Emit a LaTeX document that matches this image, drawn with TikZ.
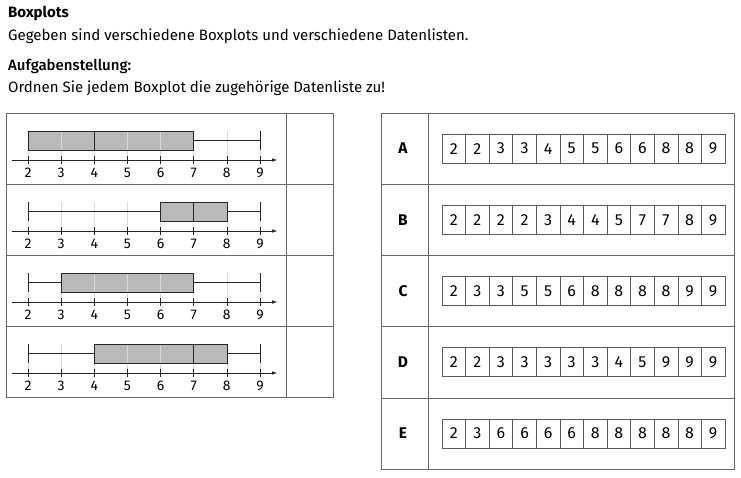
\documentclass[tikz,border=0pt]{standalone}
\usepackage{fontspec}
\setmainfont{Fira Sans}
\newfontfamily\medfont{Fira Sans}[UprightFont={* Medium}]
\usetikzlibrary{arrows.meta}
\tikzset{
  frame/.style={draw=black!60, line width=0.6pt},
  cell/.style={draw=black!65, line width=0.5pt, minimum width=23.58pt, minimum height=29pt, inner sep=0pt, font=\fontsize{16}{18}\selectfont},
  tag/.style={font=\bfseries\fontsize{15.5}{18}\selectfont},
  tick label/.style={font=\fontsize{14}{16}\selectfont, anchor=base, inner sep=0pt},
  head/.style={anchor=base west, inner sep=0pt, font=\fontsize{15}{18}\selectfont},
  box/.style={fill=gray!55},
  plotline/.style={draw=black!85, line width=0.6pt},
}
\begin{document}
\begin{tikzpicture}[x=1pt, y=-1pt]
  \useasboundingbox (0,0) rectangle (741,477);
  \node[head] (title) at (8,17) {\bfseries Boxplots};
  \node[head] (given) at (8,40) {Gegeben sind verschiedene Boxplots und verschiedene Datenlisten.};
  \node[head] (task) at (8,70) {\medfont Aufgabenstellung:};
  \node[head] (order) at (8,92) {Ordnen Sie jedem Boxplot die zugehörige Datenliste zu!};

  \draw[frame] (6,113) rectangle (333,397);
  \draw[frame] (286,113) -- (286,397);
  \foreach \k in {1,2,3}
    \draw[frame] (6,{113+71*\k}) -- (333,{113+71*\k});

  \foreach \r/\lo/\qa/\md/\qb/\hi in {1/2/2/4/7/9, 2/2/6/7/8/9, 3/2/3/3/7/9, 4/2/4/7/8/9} {
    \pgfmathsetmacro\rowtop{113+71*(\r-1)}
    \begin{scope}[shift={(-38.28,\rowtop)}, xscale=33.14]
      \fill[box] (\qa,18) rectangle (\qb,37);
      \foreach \k in {2,...,9} {
        \draw[gray!30, line width=0.5pt] (\k,18) -- (\k,47);
        \draw[plotline] (\k,43) -- (\k,51);
        \node[tick label] (t\r-\k) at (\k,64) {\k};
      }
      \draw[plotline] (\qa,18) rectangle (\qb,37);
      \draw[plotline] (\md,18) -- (\md,37);
      \draw[plotline] (\lo,27.5) -- (\qa,27.5) (\qb,27.5) -- (\hi,27.5);
      \draw[plotline] (\lo,18) -- (\lo,37) (\hi,18) -- (\hi,37);
      \draw[plotline, -{Latex[length=5pt, width=3.5pt]}] (1.52,47) -- (9.52,47);
    \end{scope}
  }

  \draw[frame] (381,113) rectangle (734,469);
  \draw[frame] (428,113) -- (428,469);
  \foreach \k in {1,...,4}
    \draw[frame] (381,{113+71.2*\k}) -- (734,{113+71.2*\k});

  \foreach \r/\name/\vals in {1/A/{2,2,3,3,4,5,5,6,6,8,8,9}, 2/B/{2,2,2,2,3,4,4,5,7,7,8,9}, 3/C/{2,3,3,5,5,6,8,8,8,8,9,9}, 4/D/{2,2,3,3,3,3,3,4,5,9,9,9}, 5/E/{2,3,6,6,6,6,8,8,8,8,8,9}} {
    \pgfmathsetmacro\rowmid{113+71.2*(\r-0.5)}
    \node[tag] (tag\name) at (403,\rowmid) {\name};
    \foreach \v [count=\i] in \vals
      \node[cell] (\name-\i) at ({442+23.58*(\i-0.5)},\rowmid) {\v};
  }
\end{tikzpicture}
\end{document}
